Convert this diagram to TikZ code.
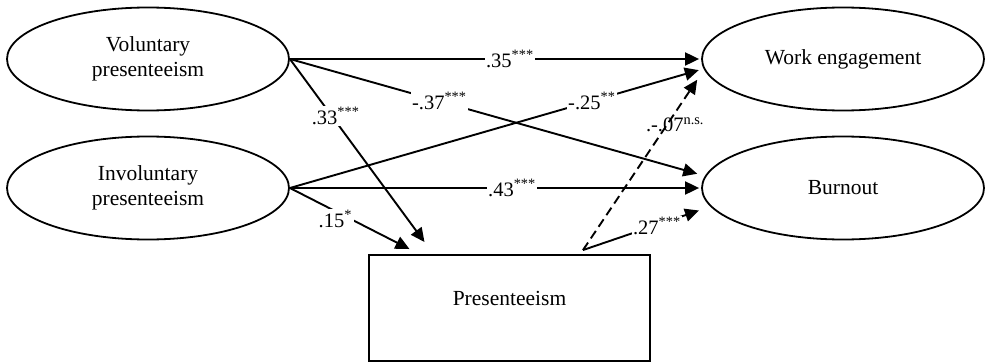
\documentclass[tikz,border=0pt]{standalone}
\usepackage{fontspec}
\setmainfont{Liberation Serif}
\usetikzlibrary{shapes.geometric,arrows.meta}
\begin{document}
\begin{tikzpicture}[x=1pt,y=-1pt,
  latent/.style={ellipse,draw,line width=1.8pt,minimum width=282pt,minimum height=103pt,inner sep=0pt,align=center,font=\fontsize{21.5}{25}\selectfont},
  observed/.style={rectangle,draw,line width=1.9pt,minimum width=281pt,minimum height=106pt,inner sep=0pt,font=\fontsize{21.5}{25}\selectfont,text height=15pt,text depth=21pt},
  arr/.style={line width=1.9pt,-{Triangle[length=14pt,width=13pt]}},
  coef/.style={fill=white,inner sep=1.5pt,font=\fontsize{20.5}{24}\selectfont},
  coefplain/.style={inner sep=1pt,font=\fontsize{20.5}{24}\selectfont}
]
\useasboundingbox (0,0) rectangle (985,364);
\node[latent] (vol) at (148,59) {Voluntary\\presenteeism};
\node[latent] (inv) at (148,188) {Involuntary\\presenteeism};
\node[latent] (we) at (843,59) {Work engagement};
\node[latent] (bo) at (843,188) {Burnout};
\node[observed] (pr) at (509.5,308) {Presenteeism};

\draw[arr,shorten >=2pt] (vol.east) -- node[coef,pos=0.535]{.35\textsuperscript{***}} (we.west);
\draw[arr,shorten >=8pt] (vol.east) -- node[coef,pos=0.36]{-.37\textsuperscript{***}} (bo.175);
\draw[arr] (vol.east) -- node[coef,pos=0.31,xshift=4pt]{.33\textsuperscript{***}} ([xshift=-85pt,yshift=12pt]pr.north);
\draw[arr,shorten >=5pt] (inv.east) -- node[coef,pos=0.73]{-.25\textsuperscript{**}} (we.184);
\draw[arr,shorten >=2pt] (inv.east) -- node[coef,pos=0.54]{.43\textsuperscript{***}} (bo.west);
\draw[arr] (inv.east) -- node[coef,pos=0.38,yshift=-8pt]{.15\textsuperscript{*}} ([xshift=-100pt,yshift=5pt]pr.north);
\draw[arr,shorten >=12pt] ([xshift=73.5pt,yshift=4pt]pr.north) -- node[coef,pos=0.58,yshift=-1pt]{.27\textsuperscript{***}} (bo.188);
\draw[arr,dash pattern=on 9pt off 5pt,shorten >=25pt] ([xshift=73.5pt,yshift=4pt]pr.north) -- node[coefplain,pos=0.656,xshift=8pt]{.-.07\textsuperscript{n.s.}} ([xshift=10pt]we.west);
\end{tikzpicture}
\end{document}
